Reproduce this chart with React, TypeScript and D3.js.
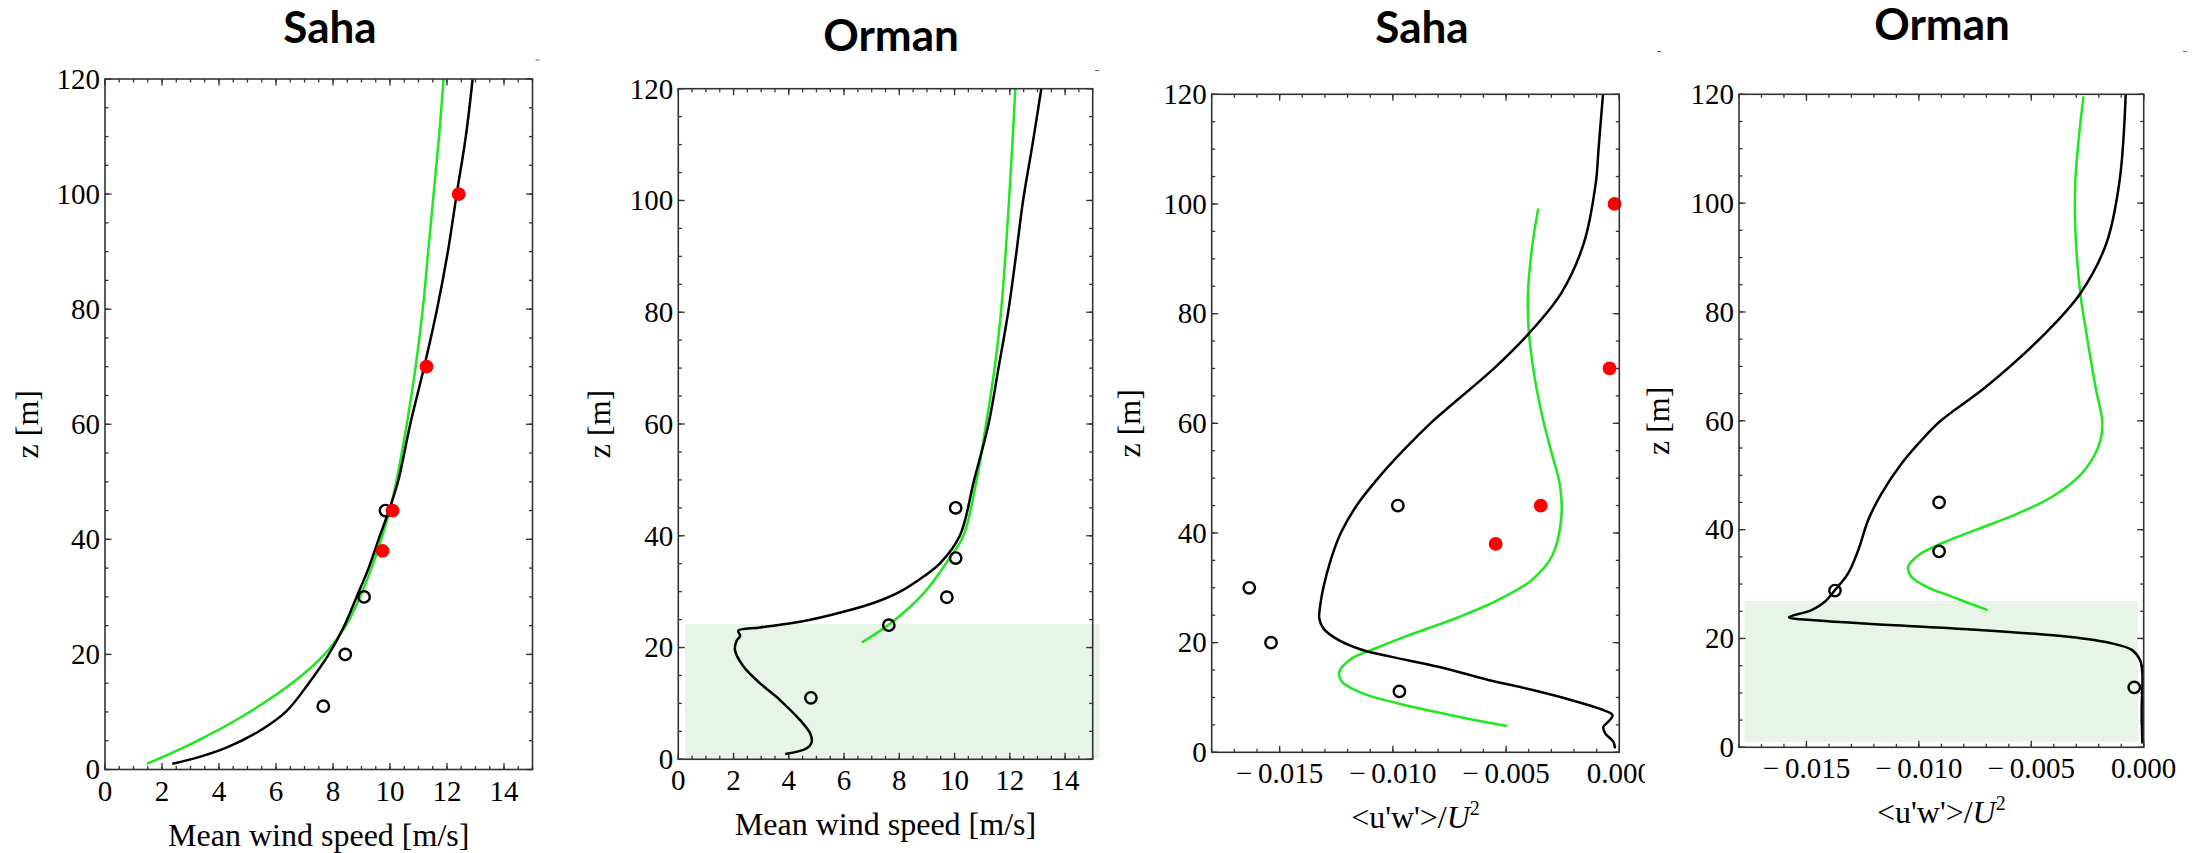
import React from 'react';
import * as d3 from 'd3';

type Pt = [number, number]; // [x value, z (m)]

// ---------- Panel 1: Saha, mean wind speed ----------
const sahaSpeedBlack: Pt[] = [
  [2.36, 1.0], [3.32, 2.2], [4.26, 3.8], [5.42, 6.7], [6.36, 10.1], [7.15, 15],
  [7.85, 20], [8.4, 25], [8.83, 30], [9.25, 35], [9.6, 40], [9.96, 45], [10.28, 50],
  [10.71, 60], [11.2, 70], [11.65, 80], [12.03, 90], [12.34, 100], [12.66, 110], [12.9, 120],
];
const sahaSpeedGreen: Pt[] = [
  [1.47, 1.0], [3.08, 4.6], [4.84, 9.3], [6.59, 15.1], [7.7, 20], [8.45, 25], [8.95, 30],
  [9.35, 35], [9.69, 40], [9.99, 45], [10.22, 50], [10.59, 60], [10.9, 70], [11.15, 80],
  [11.34, 90], [11.53, 100], [11.72, 110], [11.88, 120],
];
const sahaSpeedOpen: Pt[] = [[7.66, 11], [8.43, 20], [9.09, 30], [9.84, 45]];
const sahaSpeedRed: Pt[] = [[9.74, 38], [10.09, 45], [11.28, 70], [12.41, 100]];

// ---------- Panel 2: Orman, mean wind speed ----------
const ormanSpeedBlack: Pt[] = [
  [3.87, 0.95], [4.65, 1.97], [4.83, 3.15], [4.77, 4.65], [4.41, 7.0], [3.68, 10.6],
  [2.96, 13.6], [2.36, 16.6], [2.05, 19.6], [2.12, 21.3], [2.24, 22.1], [2.17, 23.0],
  [2.96, 23.6], [4.41, 24.6], [5.98, 26.4], [7.19, 28.2], [8.03, 30.0], [8.88, 32.7],
  [9.48, 35.1], [10.19, 40], [10.71, 50], [11.23, 60], [11.59, 70], [11.94, 80],
  [12.22, 90], [12.48, 100], [12.82, 110], [13.14, 120],
];
const ormanSpeedGreen: Pt[] = [
  [6.64, 20.9], [7.67, 24.3], [8.88, 29.7], [9.78, 35.7], [10.32, 40], [10.8, 50],
  [11.14, 60], [11.45, 70], [11.68, 80], [11.84, 90], [11.97, 100], [12.09, 110], [12.2, 120],
];
const ormanSpeedOpen: Pt[] = [[4.8, 11], [7.62, 24], [9.72, 29], [10.04, 36], [10.04, 45]];
const ormanSpeedRed: Pt[] = [];

// ---------- Panel 3: Saha, <u'w'>/U^2 ----------
const sahaStressBlack: Pt[] = [
  [-0.00019, 0.7], [-0.00026, 1.9], [-0.00063, 3.5], [-0.0007, 4.7], [-0.00048, 5.6],
  [-0.0003, 6.8], [-0.00077, 7.8], [-0.0021, 9.5], [-0.00387, 11.4], [-0.00578, 13.2],
  [-0.00799, 15.6], [-0.01005, 17.4], [-0.01137, 18.7], [-0.01241, 20.5], [-0.01307, 22.6],
  [-0.01325, 24.4], [-0.0132, 27], [-0.01307, 30], [-0.01275, 35], [-0.0123, 40],
  [-0.0116, 45], [-0.01065, 50], [-0.00955, 55], [-0.00834, 60], [-0.00546, 70.3],
  [-0.00399, 76.4], [-0.00257, 83.7], [-0.00157, 92.8], [-0.00104, 103.8], [-0.00091, 110.4],
  [-0.00072, 120],
];
const sahaStressGreen: Pt[] = [
  [-0.00497, 4.8], [-0.00711, 6.5], [-0.00976, 8.9], [-0.01137, 10.8], [-0.01226, 12.9],
  [-0.01236, 14.7], [-0.01182, 17.1], [-0.01093, 18.7], [-0.00946, 21.1], [-0.00725, 24.4],
  [-0.00534, 27.8], [-0.00387, 31.4], [-0.00298, 35.7], [-0.00257, 42.4], [-0.00261, 48.4],
  [-0.00298, 54.5], [-0.00333, 60], [-0.00372, 67.9], [-0.00399, 76.4], [-0.00404, 83.1],
  [-0.00385, 92.2], [-0.00358, 99.2],
];
const sahaStressOpen: Pt[] = [[-0.00978, 45], [-0.01634, 30], [-0.01538, 20], [-0.00971, 11.1]];
const sahaStressRed: Pt[] = [[-0.00347, 45], [-0.00546, 38], [-0.00021, 100], [-0.00043, 70]];

// ---------- Panel 4: Orman, <u'w'>/U^2 ----------
const ormanStressBlack: Pt[] = [
  [-0.00006, 0.7], [-0.00009, 6.9], [-0.00006, 13.6], [-0.00016, 16.0], [-0.00053, 17.9],
  [-0.00142, 19.1], [-0.00335, 20.3], [-0.0078, 21.7], [-0.01225, 22.7], [-0.01447, 23.3],
  [-0.01578, 23.9], [-0.01477, 25.2], [-0.01417, 26.8], [-0.01373, 28.9], [-0.01314, 32.0],
  [-0.01269, 36.3], [-0.01225, 41.8], [-0.01165, 46.7], [-0.01076, 52.2], [-0.00987, 56.5],
  [-0.00903, 60], [-0.007, 66.3], [-0.0043, 76.4], [-0.00282, 83.4], [-0.00166, 92.6],
  [-0.00107, 104.2], [-0.0008, 120],
];
const ormanStressGreen: Pt[] = [
  [-0.00694, 25.2], [-0.00854, 27.7], [-0.00965, 29.5], [-0.01035, 31.4], [-0.01047, 33.2],
  [-0.01002, 35.3], [-0.00898, 37.5], [-0.0075, 39.9], [-0.00558, 43.0], [-0.00409, 46.0],
  [-0.00276, 50.3], [-0.00202, 55.2], [-0.00184, 59.5], [-0.00215, 66.3], [-0.00255, 76.1],
  [-0.00282, 83.4], [-0.00304, 95.1], [-0.00304, 104.2], [-0.00288, 112.2], [-0.00268, 119.6],
];
const ormanStressOpen: Pt[] = [[-0.01373, 28.8], [-0.0091, 36], [-0.0091, 45], [-0.00042, 11]];
const ormanStressRed: Pt[] = [];

// canopy (forest) shaded band: [x0, x1, z0, z1]
const ormanSpeedCanopy: number[] = [0.24, 15.25, 0, 24.2];
const ormanStressCanopy: number[] = [-0.01776, -0.00026, 1.0, 26.9];

// ---------- Ticks / labels ----------
const titles = ['Saha', 'Orman', 'Saha', 'Orman'];
const zTicks = [0, 20, 40, 60, 80, 100, 120];
const speedTicks = [0, 2, 4, 6, 8, 10, 12, 14];
const stressTicks = [-0.015, -0.01, -0.005, 0];
const speedLabel = 'Mean wind speed [m/s]';
const zLabel = 'z [m]';

const SERIF = '"Liberation Serif", "Times New Roman", serif';
const SANS = 'Lato, "Open Sans", sans-serif';
const GREEN = '#1ee81e';

interface PanelProps {
  title: string;
  titleX: number;
  titleY: number;
  box: { l: number; r: number; t: number; b: number };
  xDomain: [number, number];
  xMajor: number[];
  xMinor: number[];
  fmt: (v: number) => string;
  stress: boolean;
  yLabelX: number;
  black: Pt[];
  green: Pt[];
  open: Pt[];
  red: Pt[];
  shade?: number[];
  clipId?: string;
  clipRight?: number;
}

function Panel(p: PanelProps) {
  const { l, r, t, b } = p.box;
  const x = d3.scaleLinear().domain(p.xDomain).range([l, r]);
  const y = d3.scaleLinear().domain([0, 120]).range([b, t]);
  const line = d3
    .line<Pt>()
    .x((d) => x(d[0]))
    .y((d) => y(d[1]))
    .curve(d3.curveCatmullRom.alpha(0.5));
  const zMinor = d3.range(0, 121, 5);
  const MAJ = 6.5;
  const MIN = 3.5;
  const frameColor = '#333';
  const cx = (l + r) / 2;
  const cy = (t + b) / 2;
  const hasClip = p.clipId !== undefined && p.clipRight !== undefined;

  return (
    <g>
      {hasClip && (
        <defs>
          <clipPath id={p.clipId}>
            <rect x={l - 100} y={b} width={(p.clipRight as number) - (l - 100)} height={60} />
          </clipPath>
        </defs>
      )}
      {p.shade && (
        <rect
          x={x(p.shade[0])}
          y={y(p.shade[3])}
          width={x(p.shade[1]) - x(p.shade[0])}
          height={y(p.shade[2]) - y(p.shade[3])}
          fill="#e7f4e7"
        />
      )}
      <text
        x={p.titleX}
        y={p.titleY}
        textAnchor="middle"
        fontFamily={SANS}
        fontWeight={700}
        fontSize={44}
        fill="#000"
      >
        {p.title}
      </text>
      {/* ticks on all four sides, pointing inward */}
      <g stroke={frameColor} strokeWidth={1.3}>
        {p.xMinor.map((v, i) => (
          <g key={'xm' + i}>
            <line x1={x(v)} x2={x(v)} y1={b} y2={b - MIN} />
            <line x1={x(v)} x2={x(v)} y1={t} y2={t + MIN} />
          </g>
        ))}
        {p.xMajor.map((v, i) => (
          <g key={'xM' + i}>
            <line x1={x(v)} x2={x(v)} y1={b} y2={b - MAJ} />
            <line x1={x(v)} x2={x(v)} y1={t} y2={t + MAJ} />
          </g>
        ))}
        {zMinor.map((v, i) => (
          <g key={'ym' + i}>
            <line x1={l} x2={l + MIN} y1={y(v)} y2={y(v)} />
            <line x1={r} x2={r - MIN} y1={y(v)} y2={y(v)} />
          </g>
        ))}
        {zTicks.map((v, i) => (
          <g key={'yM' + i}>
            <line x1={l} x2={l + MAJ} y1={y(v)} y2={y(v)} />
            <line x1={r} x2={r - MAJ} y1={y(v)} y2={y(v)} />
          </g>
        ))}
      </g>
      {/* curves */}
      <path d={line(p.green) || ''} fill="none" stroke={GREEN} strokeWidth={2.5} />
      <path d={line(p.black) || ''} fill="none" stroke="#000" strokeWidth={2.5} />
      {p.open.map((d, i) => (
        <circle key={'o' + i} cx={x(d[0])} cy={y(d[1])} r={5.7} fill="none" stroke="#000" strokeWidth={2.4} />
      ))}
      {p.red.map((d, i) => (
        <circle key={'r' + i} cx={x(d[0])} cy={y(d[1])} r={6.9} fill="#ff0000" />
      ))}
      <rect x={l} y={t} width={r - l} height={b - t} fill="none" stroke={frameColor} strokeWidth={1.6} />
      {/* tick labels */}
      <g fontFamily={SERIF} fontSize={29} fill="#000">
        {zTicks.map((v, i) => (
          <text key={'yl' + i} x={l - 5} y={y(v)} dy="0.34em" textAnchor="end">
            {v}
          </text>
        ))}
      </g>
      <g
        fontFamily={SERIF}
        fontSize={29}
        fill="#000"
        clipPath={hasClip ? `url(#${p.clipId})` : undefined}
      >
        {p.xMajor.map((v, i) => (
          <text key={'xl' + i} x={x(v)} y={b + 31} textAnchor="middle">
            {p.fmt(v)}
          </text>
        ))}
      </g>
      {/* axis titles */}
      <text
        transform={`translate(${p.yLabelX},${cy}) rotate(-90)`}
        textAnchor="middle"
        fontFamily={SERIF}
        fontSize={32}
        fill="#000"
      >
        {zLabel}
      </text>
      {p.stress ? (
        <text x={cx} y={b + 76} textAnchor="middle" fontFamily={SERIF} fontSize={32} fill="#000">
          <tspan>{"<u'w'>/"}</tspan>
          <tspan fontStyle="italic">U</tspan>
          <tspan fontSize={20} dy={-13}>
            2
          </tspan>
        </text>
      ) : (
        <text x={cx} y={b + 76} textAnchor="middle" fontFamily={SERIF} fontSize={32} fill="#000">
          {speedLabel}
        </text>
      )}
    </g>
  );
}

const speedFmt = (v: number) => String(v);
const stressFmt = (v: number) => (v < 0 ? '\u2212\u2009' + Math.abs(v).toFixed(3) : v.toFixed(3));

const speedMinor = d3.range(0, 31).map((i) => i * 0.5);
const stressMinor = d3.range(-18, 1).map((i) => i * 0.001);

export default function App() {
  return (
    <svg
      width={2198}
      height={853}
      viewBox="0 0 2198 853"
      style={{ position: 'absolute', left: 0, top: 0, display: 'block', background: '#fff' }}
    >
      <rect x={0} y={0} width={2198} height={853} fill="#fff" />
      <Panel
        title={titles[0]}
        titleX={330}
        titleY={43}
        box={{ l: 105, r: 532.5, t: 79, b: 769.5 }}
        xDomain={[0, 15]}
        xMajor={speedTicks}
        xMinor={speedMinor}
        fmt={speedFmt}
        stress={false}
        yLabelX={38}
        black={sahaSpeedBlack}
        green={sahaSpeedGreen}
        open={sahaSpeedOpen}
        red={sahaSpeedRed}
      />
      <Panel
        title={titles[1]}
        titleX={891}
        titleY={51}
        box={{ l: 678.3, r: 1092.7, t: 88.7, b: 759.3 }}
        xDomain={[0, 15]}
        xMajor={speedTicks}
        xMinor={speedMinor}
        fmt={speedFmt}
        stress={false}
        yLabelX={610}
        black={ormanSpeedBlack}
        green={ormanSpeedGreen}
        open={ormanSpeedOpen}
        red={ormanSpeedRed}
        shade={ormanSpeedCanopy}
      />
      <Panel
        title={titles[2]}
        titleX={1422}
        titleY={43}
        box={{ l: 1211.7, r: 1619.3, t: 94.3, b: 752.3 }}
        xDomain={[-0.018, 0]}
        xMajor={stressTicks}
        xMinor={stressMinor}
        fmt={stressFmt}
        stress={true}
        yLabelX={1139.5}
        black={sahaStressBlack}
        green={sahaStressGreen}
        open={sahaStressOpen}
        red={sahaStressRed}
        clipId="clipSahaStress"
        clipRight={1645}
      />
      <Panel
        title={titles[3]}
        titleX={1942}
        titleY={40}
        box={{ l: 1739, r: 2143.7, t: 94.3, b: 747.3 }}
        xDomain={[-0.018, 0]}
        xMajor={stressTicks}
        xMinor={stressMinor}
        fmt={stressFmt}
        stress={true}
        yLabelX={1669}
        black={ormanStressBlack}
        green={ormanStressGreen}
        open={ormanStressOpen}
        red={ormanStressRed}
        shade={ormanStressCanopy}
      />
      {/* small stray marks present in the source image */}
      <g stroke="#666" strokeWidth={1}>
        <line x1={535.5} x2={539.5} y1={60} y2={60} />
        <line x1={1095} x2={1099} y1={70.5} y2={70.5} />
        <line x1={1657} x2={1661} y1={51.5} y2={51.5} />
        <line x1={2183} x2={2187} y1={51.5} y2={51.5} />
      </g>
    </svg>
  );
}
